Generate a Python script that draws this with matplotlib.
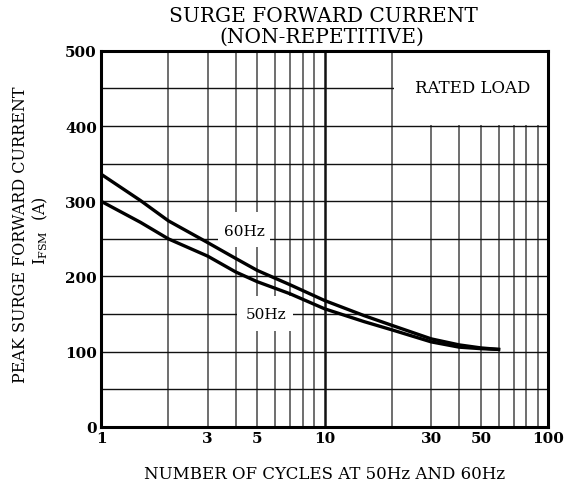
import numpy as np
import matplotlib
matplotlib.use('Agg')
import matplotlib.pyplot as plt
from matplotlib.patches import Rectangle

plt.rcParams['font.family'] = 'DejaVu Serif'
plt.rcParams['mathtext.fontset'] = 'dejavuserif'

# values
cycles = [1, 1.5, 2, 3, 4, 5, 7, 10, 15, 20, 30, 40, 50, 60]
i_60hz = [336, 301, 274, 245, 224, 208, 189, 168, 148, 135, 117, 109, 105, 103]
i_50hz = [300, 272, 250, 227, 206, 193, 177, 157, 140, 129, 113, 106, 104, 103]
xticks = [1, 3, 5, 10, 30, 50, 100]
yticks = [0, 100, 200, 300, 400, 500]

fig = plt.figure(figsize=(5.71, 4.89), dpi=100)
ax = fig.add_axes([0.177, 0.125, 0.783, 0.769])

ax.set_xscale('log')
ax.set_xlim(1, 100)
ax.set_ylim(0, 500)

# grid
for d in [1, 10]:
    for k in range(2, 10):
        ax.axvline(d * k, color='#555555', lw=1.2, zorder=0.5)
ax.axvline(10, color='#111111', lw=1.8, zorder=0.5)
for yv in range(50, 500, 50):
    ax.axhline(yv, color='#111111', lw=1.0, zorder=0.5)

# white areas behind the notes
ax.add_patch(Rectangle((20.5, 401.5), 80, 100, fc='white', ec='none', zorder=1))
ax.add_patch(Rectangle((3.34, 239), 5.71 - 3.34, 47, fc='white', ec='none', zorder=1))
ax.add_patch(Rectangle((4.06, 128), 7.24 - 4.06, 46, fc='white', ec='none', zorder=1))

ax.text(46, 451, 'RATED LOAD', ha='center', va='center', fontsize=12, zorder=3)

ax.plot(cycles, i_60hz, color='black', lw=2.4, zorder=2)
ax.plot(cycles, i_50hz, color='black', lw=2.4, zorder=2)

ax.text(4.36, 260, '60Hz', ha='center', va='center', fontsize=11, zorder=3)
ax.text(5.47, 150, '50Hz', ha='center', va='center', fontsize=11, zorder=3)

ax.set_xticks(xticks)
ax.set_xticklabels([str(t) for t in xticks], fontsize=11, fontweight='bold')
ax.xaxis.set_minor_formatter(matplotlib.ticker.NullFormatter())
ax.set_yticks(yticks)
ax.set_yticklabels([str(t) for t in yticks], fontsize=11, fontweight='bold')
ax.tick_params(which='both', length=0, pad=3)

for s in ax.spines.values():
    s.set_linewidth(2.2)

fig.text(323 / 571, 1 - 17 / 489, 'SURGE FORWARD CURRENT', ha='center', va='center', fontsize=14.5)
fig.text(322 / 571, 1 - 37 / 489, '(NON-REPETITIVE)', ha='center', va='center', fontsize=14.5)

fig.text(325 / 571, 1 - 475 / 489, 'NUMBER OF CYCLES AT 50Hz AND 60Hz', ha='center', va='center', fontsize=12)
fig.text(21 / 571, 1 - 235 / 489, 'PEAK SURGE FORWARD CURRENT', ha='center', va='center',
         rotation=90, fontsize=11.5)
fig.text(40 / 571, 1 - 231 / 489, r'I$_{\mathrm{FSM}}$  (A)', ha='center', va='center',
         rotation=90, fontsize=11.5)

fig.savefig('out.png', dpi=100)
